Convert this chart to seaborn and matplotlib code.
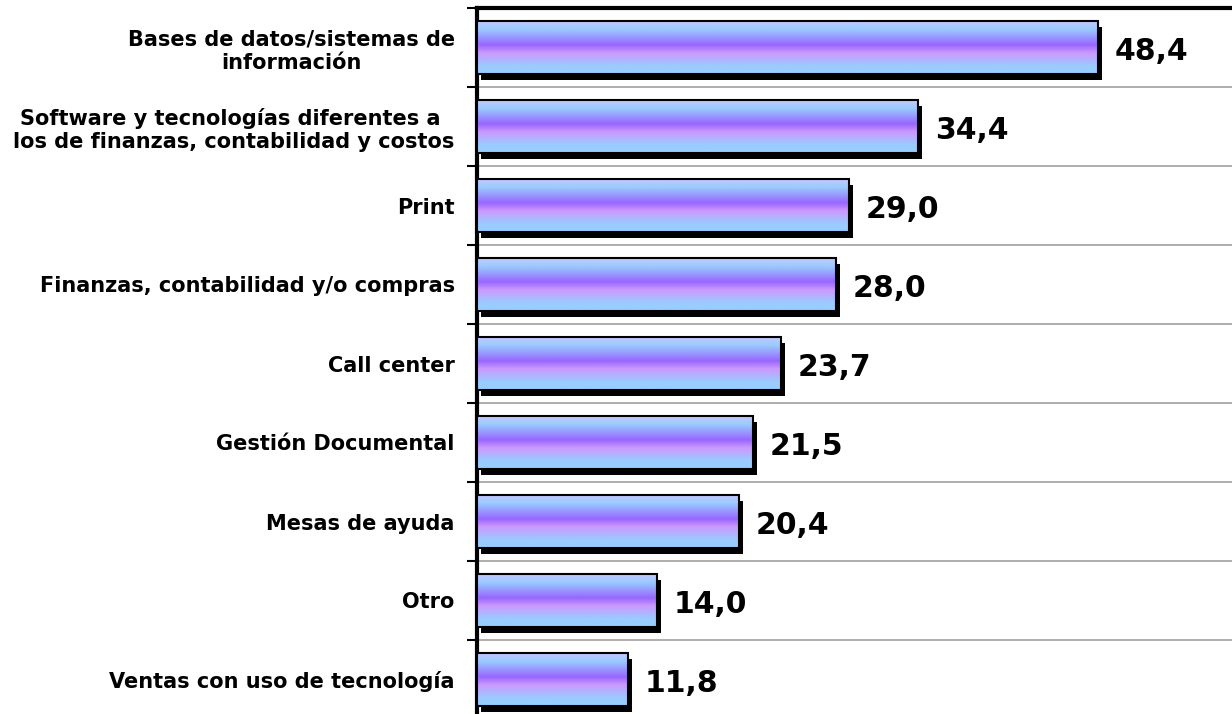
import numpy as np
import pandas as pd
import matplotlib
matplotlib.use('Agg')
import matplotlib.pyplot as plt
import matplotlib.transforms as mtransforms
from matplotlib.colors import LinearSegmentedColormap
from matplotlib.patches import Rectangle
import seaborn as sns

# Datos del grafico
categorias = ['Bases de datos/sistemas de\ninformación',
              'Software y tecnologías diferentes a \nlos de finanzas, contabilidad y costos',
              'Print',
              'Finanzas, contabilidad y/o compras',
              'Call center',
              'Gestión Documental',
              'Mesas de ayuda',
              'Otro',
              'Ventas con uso de tecnología']
valores = [48.4, 34.4, 29.0, 28.0, 23.7, 21.5, 20.4, 14.0, 11.8]
etiquetas = ['48,4', '34,4', '29,0', '28,0', '23,7', '21,5', '20,4', '14,0', '11,8']

df = pd.DataFrame({'categoria': categorias, 'valor': valores})

sns.set_style('white')
plt.rcParams['font.family'] = ['DejaVu Sans']

fig = plt.figure(figsize=(12.32, 7.14), dpi=100)
ax = fig.add_axes([477 / 1232, -5 / 714, 1 - 477 / 1232, 711 / 714])

sns.barplot(data=df, x='valor', y='categoria', orient='h', ax=ax, width=0.66,
            facecolor='none', edgecolor='black', linewidth=1.5, zorder=4)

# Degradado azul-morado como en Excel
cmap = LinearSegmentedColormap.from_list('grad', [
    (0.0, '#c4c8ff'), (0.15, '#99ccff'), (0.45, '#9966ff'),
    (0.6, '#cc99ff'), (0.85, '#99ccff'), (1.0, '#99ccff')])
grad = np.linspace(0, 1, 256).reshape(-1, 1)

sombra = mtransforms.ScaledTranslation(4 / 100, -6 / 100, fig.dpi_scale_trans)
for p, txt in zip(ax.patches, etiquetas):
    x0, y0 = p.get_x(), p.get_y()
    w, h = p.get_width(), p.get_height()
    # sombra negra desplazada
    ax.add_patch(Rectangle((x0, y0), w, h, facecolor='black', edgecolor='none',
                           transform=ax.transData + sombra, zorder=2))
    im = ax.imshow(grad, cmap=cmap, aspect='auto', extent=(x0, x0 + w, y0 + h, y0),
                   zorder=3, interpolation='bilinear')
    im.set_clip_path(p)
    ax.text(x0 + w + 1.3, y0 + h / 2 + 0.05, txt, va='center', ha='left',
            fontsize=21.5, fontweight='bold', color='black')

ax.set_xlim(0, 58.85)
ax.set_ylim(len(categorias) - 0.5, -0.5)

# lineas entre categorias
for i in range(len(categorias) - 1):
    ax.axhline(i + 0.5, color='#a0a0a0', lw=1.2, zorder=1)

ax.set_xlabel('')
ax.set_ylabel('')
ax.set_xticks([])
ax.tick_params(axis='y', which='major', length=0, pad=16, labelsize=15, labelcolor='black')
for lbl in ax.get_yticklabels():
    lbl.set_fontweight('bold')
    lbl.set_multialignment('center')
ax.set_yticks(np.arange(-0.5, len(categorias), 1), minor=True)
ax.tick_params(axis='y', which='minor', left=True, length=7, width=1.5,
               color='black', direction='out')

for s in ['right', 'bottom']:
    ax.spines[s].set_visible(False)
ax.spines['left'].set_linewidth(3)
ax.spines['left'].set_color('black')
ax.spines['top'].set_linewidth(3)
ax.spines['top'].set_color('black')

fig.savefig('out.png', dpi=100)
